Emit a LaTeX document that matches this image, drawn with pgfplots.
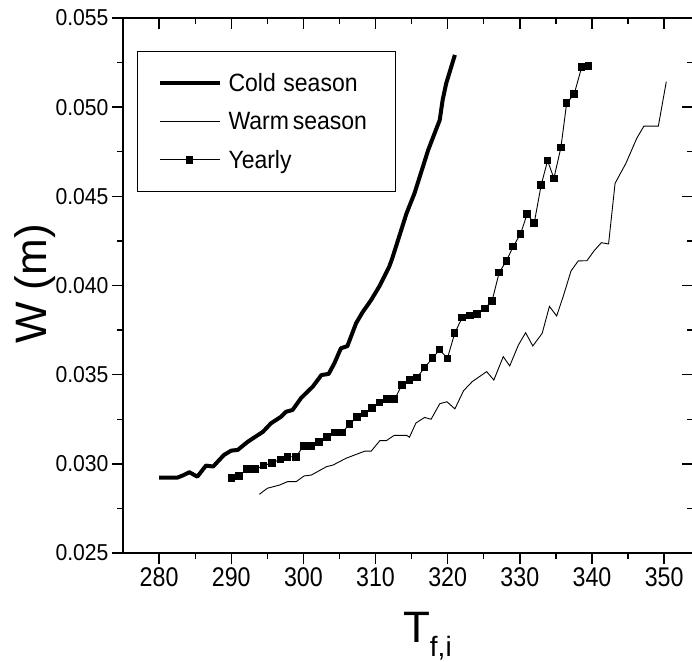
\documentclass[border=0pt]{standalone}
\usepackage{pgfplots}
\pgfplotsset{compat=1.18}
\usepackage{fontspec}
\setmainfont{Liberation Sans}
\definecolor{thin}{RGB}{80,80,80}
\begin{document}
\begin{tikzpicture}
\pgfplotsset{
  common/.style={
    scale only axis, width=570bp, height=535bp,
    at={(0,0)}, anchor=south west,
    xmin=275, xmax=354, ymin=0.025, ymax=0.055,
    xtick={280,290,300,310,320,330,340,350},
    ytick={0.025,0.030,0.035,0.040,0.045,0.050,0.055},
    minor x tick num=1, minor y tick num=1,
    major tick length=11bp, minor tick length=6bp,
    axis line style={line width=1.6bp},
    every tick/.style={black, line width=1.4bp},
    every minor tick/.style={black, line width=1.2bp},
    scaled y ticks=false,
    /pgf/number format/assume math mode=true,
  }
}
\begin{axis}[common,
  xtick pos=left, ytick pos=left, tick align=outside,
  xticklabel style={font=\fontsize{27bp}{27bp}\selectfont},
  xticklabel={\scalebox{0.86}[1]{\pgfmathprintnumber{\tick}}},
  yticklabel style={font=\fontsize{23bp}{23bp}\selectfont},
  yticklabel={\scalebox{0.92}[1]{\pgfmathprintnumber[fixed,fixed zerofill,precision=3]{\tick}}},
  xlabel={T\raisebox{-14bp}{\fontsize{28bp}{28bp}\selectfont f,i}},
  xlabel style={at={(axis description cs:0.491,-0.168)}, anchor=base west,
     font=\fontsize{44bp}{44bp}\selectfont, inner sep=0pt},
  ylabel={W (m)},
  ylabel style={at={(axis description cs:-0.135,0.503)}, anchor=base,
     font=\fontsize{44bp}{44bp}\selectfont, inner sep=0pt},
  legend style={at={(axis description cs:0.0246,0.938)}, anchor=north west,
     draw=black, line width=1bp, fill=white,
     font=\fontsize{25bp}{25bp}\selectfont,
     inner xsep=20bp, inner ysep=20bp, row sep=15bp},
  legend cell align=left,
  legend image code/.code={\draw[mark repeat=2,mark phase=2,#1]
      plot coordinates {(0bp,0bp) (30bp,0bp) (60bp,0bp)};},
  /tikz/every odd column/.append style={column sep=5bp},
  /tikz/every even column/.append style={text width=145bp},
]
\addplot[black, line width=4bp, line join=round] coordinates {
(280,0.02922) (282.5,0.02922) (283.3,0.02935) (284.2,0.02953) (285.3,0.02928)
(286.5,0.02990) (287.5,0.02985) (289,0.03050) (290,0.03074) (290.9,0.03078)
(292.3,0.03124) (294.4,0.03180) (295.5,0.03227) (296.9,0.03264) (297.6,0.03292)
(298.5,0.03302) (299.7,0.03370) (301.3,0.03433) (302.5,0.03498) (303.5,0.03504)
(304.3,0.03564) (305.2,0.03648) (306.1,0.03660) (307.3,0.03788) (308.2,0.03850)
(309.4,0.03919) (310.6,0.04000) (311.9,0.04106) (312.3,0.04150) (314.3,0.04405)
(315.4,0.04517) (317.3,0.04760) (318.9,0.04928) (319.3,0.05040) (319.8,0.05134)
(321,0.05293)};
\addlegendentry{\scalebox{0.92}[1]{Cold season}}
\addplot[thin, line width=0.9bp] coordinates {
(293.9,0.02829) (295.0,0.02863) (296.7,0.02881) (297.8,0.02900) (299.0,0.02900)
(300.1,0.02932) (301.1,0.02937) (303.2,0.02984) (304.1,0.02993) (305.9,0.03031)
(308.5,0.03071) (309.4,0.03071) (310.6,0.03130) (311.5,0.03130) (312.6,0.03160)
(314.3,0.03160) (314.7,0.03149) (315.6,0.03229) (316.8,0.03260) (317.7,0.03250)
(318.9,0.03337) (319.9,0.03348) (321.0,0.03308) (322.2,0.03410) (323.4,0.03461)
(324.4,0.03489) (325.4,0.03517) (326.4,0.03470) (327.7,0.03601) (328.6,0.03549)
(329.8,0.03666) (330.8,0.03735) (331.8,0.03661) (333.1,0.03732) (334.1,0.03883)
(335.1,0.03829) (336.0,0.03937) (337.1,0.04082) (338.1,0.04138) (339.3,0.04139)
(340.3,0.04195) (341.3,0.04240) (342.3,0.04233) (343.2,0.04573) (344.7,0.04685)
(346.2,0.04825) (347.2,0.04894) (349.2,0.04894) (350.3,0.05143)};
\addlegendentry{\scalebox{0.92}[1]{Warm\,season}}
\addplot[thin, line width=0.9bp, mark=square*, mark size=3.3bp,
  mark options={black, fill=black, line width=0pt}] coordinates {
(290.04,0.02922) (291.11,0.02932) (292.18,0.02971) (293.33,0.02971) (294.49,0.02990)
(295.65,0.03006) (296.81,0.03025) (297.82,0.03040) (298.99,0.03040) (300.00,0.03100)
(301.07,0.03100) (302.13,0.03124) (303.26,0.03152) (304.31,0.03175) (305.35,0.03175)
(306.39,0.03222) (307.43,0.03261) (308.47,0.03283) (309.54,0.03313) (310.56,0.03343)
(311.57,0.03362) (312.64,0.03362) (313.65,0.03442) (314.72,0.03470) (315.74,0.03484)
(316.81,0.03540) (317.88,0.03592) (318.89,0.03640) (319.96,0.03591) (320.97,0.03732)
(322.01,0.03821) (323.06,0.03831) (324.07,0.03840) (325.14,0.03872) (326.15,0.03913)
(327.13,0.04072) (328.15,0.04139) (329.07,0.04218) (330.10,0.04289) (331.01,0.04401)
(331.99,0.04349) (332.96,0.04564) (333.85,0.04700) (334.72,0.04601) (335.69,0.04773)
(336.49,0.05022) (337.54,0.05074) (338.57,0.05224) (339.49,0.05231)};
\addlegendentry{\scalebox{0.92}[1]{Yearly}}
\end{axis}
\begin{axis}[common,
  xtick pos=right, ytick pos=right, tick align=inside,
  xticklabels={}, yticklabels={},
]
\end{axis}
\pgfresetboundingbox
\useasboundingbox (-123bp,-109bp) rectangle (569bp,553bp);
\end{tikzpicture}
\end{document}
